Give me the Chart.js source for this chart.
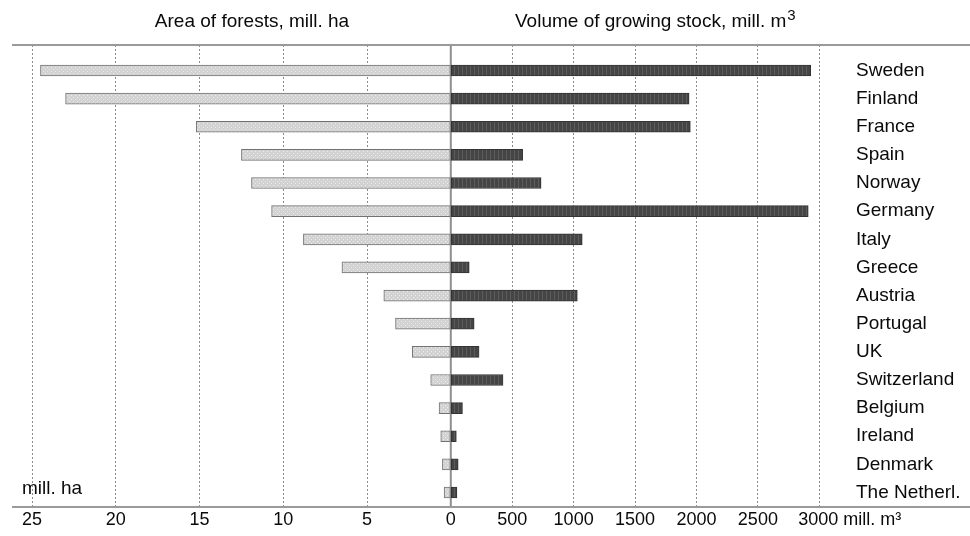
<!DOCTYPE html>
<html>
<head>
<meta charset="utf-8">
<script src="https://cdn.jsdelivr.net/npm/chart.js@4/dist/chart.umd.min.js"></script>
<style>
  html, body { margin: 0; padding: 0; background: #fff; }
  canvas { display: block; }
</style>
</head>
<body>
<canvas id="forest_graph" width="970" height="536"></canvas>
<script>
const countries = ['Sweden', 'Finland', 'France', 'Spain', 'Norway', 'Germany', 'Italy', 'Greece',
  'Austria', 'Portugal', 'UK', 'Switzerland', 'Belgium', 'Ireland', 'Denmark', 'The Netherl.'];
// area of forests, mill. ha
const forestArea = [24.5, 23.0, 15.2, 12.5, 11.9, 10.7, 8.8, 6.5, 4.0, 3.3, 2.3, 1.2, 0.7, 0.6, 0.5, 0.4];
// volume of growing stock, mill. m3
const growingStock = [2930, 1940, 1950, 585, 735, 2910, 1070, 150, 1030, 190, 230, 425, 95, 45, 60, 50];
const areaTicks = [0, 5, 10, 15, 20, 25];
const stockTicks = [500, 1000, 1500, 2000, 2500, 3000];

const FONT = "'Liberation Sans', Arial, sans-serif";
const TEXT = '#0a0a0a';

// small hatched fills for the two bar kinds
function makePattern(base, dot, line) {
    let c = document.createElement('canvas');
    c.width = 4; c.height = 4;
    let p = c.getContext('2d');
    p.fillStyle = base;
    p.fillRect(0, 0, 4, 4);
    if (dot) {
        p.fillStyle = dot;
        p.fillRect(1, 1, 1, 1);
        p.fillRect(3, 3, 1, 1);
    }
    if (line) {
        p.fillStyle = line;
        p.fillRect(2, 0, 1, 4);
    }
    return p.createPattern(c, 'repeat');
}

let ctx = document.getElementById('forest_graph').getContext('2d');
let lightFill = makePattern('#d2d2d2', '#ececec', null);
let darkFill = makePattern('#454545', null, '#5c5c5c');

let toPoints = (vals) => vals.map((v, i) => ({x: v, y: i}));

let gridColor = (c) => c.tick && c.tick.value === 0 ? 'rgba(0,0,0,0)' : '#8a8a8a';
let lastStock = stockTicks[stockTicks.length - 1];

const overlay = {
    id: 'overlay',
    beforeDatasetsDraw(chart) {
        const c = chart.ctx;
        const area = chart.chartArea;
        const x0 = chart.scales.xr.getPixelForValue(0);
        c.save();
        c.strokeStyle = '#8f8f8f';
        c.lineWidth = 2;
        c.beginPath();
        c.moveTo(x0, area.top);
        c.lineTo(x0, area.bottom);
        c.stroke();
        c.restore();
    },
    afterDraw(chart) {
        const c = chart.ctx;
        const area = chart.chartArea;
        c.save();
        // frame lines across the full width
        c.strokeStyle = '#9a9a9a';
        c.lineWidth = 2;
        c.beginPath();
        c.moveTo(area.left, area.top);
        c.lineTo(chart.width, area.top);
        c.moveTo(area.left, area.bottom);
        c.lineTo(chart.width, area.bottom);
        c.stroke();

        c.fillStyle = TEXT;
        c.textBaseline = 'middle';
        c.font = '19px ' + FONT;
        c.textAlign = 'center';
        c.fillText('Area of forests, mill. ha', 252, 22);

        c.textAlign = 'left';
        let head = 'Volume of growing stock, mill. m';
        c.fillText(head, 515, 22);
        let w = c.measureText(head).width;
        c.font = '15px ' + FONT;
        c.fillText('3', 515 + w + 1, 16);

        c.font = '19px ' + FONT;
        c.fillText('mill. ha', 22, 489);

        // last volume tick carries the unit
        c.font = '18px ' + FONT;
        let xl = chart.scales.xr.getPixelForValue(lastStock) - 21;
        c.fillText(lastStock + ' mill. m\u00B3', xl, area.bottom + 2 + 10.8);
        c.restore();
    }
};

let forest_graph = new Chart(ctx, {
    type: 'bar',
    data: {
        datasets: [{
                label: 'Area of forests',
                data: toPoints(forestArea),
                xAxisID: 'xl',
                yAxisID: 'y',
                backgroundColor: lightFill,
                borderColor: '#727272',
                borderWidth: 1,
                borderSkipped: false,
                barThickness: 11,
                grouped: false
            }, {
                label: 'Volume of growing stock',
                data: toPoints(growingStock),
                xAxisID: 'xr',
                yAxisID: 'y',
                backgroundColor: darkFill,
                borderColor: '#333333',
                borderWidth: 1,
                borderSkipped: false,
                barThickness: 11,
                grouped: false
            }
        ]
    },
    options: {
        indexAxis: 'y',
        responsive: false,
        animation: false,
        layout: {
            padding: {top: 45, left: 12, right: 0, bottom: 0}
        },
        plugins: {
            legend: {display: false},
            tooltip: {enabled: false}
        },
        scales: {
            xl: {
                type: 'linear',
                position: 'bottom',
                stack: 'x',
                stackWeight: 438.8,
                reverse: true,
                min: 0,
                max: 26.2,
                afterFit: (scale) => { scale.height = 29; },
                afterBuildTicks: (scale) => { scale.ticks = areaTicks.map(v => ({value: v})); },
                grid: {color: gridColor, drawTicks: false, lineWidth: 1},
                border: {display: false, dash: [2, 2]},
                ticks: {
                    color: TEXT,
                    font: {family: FONT, size: 18},
                    padding: 2,
                    maxRotation: 0,
                    autoSkip: false,
                    callback: (v) => String(v)
                }
            },
            xr: {
                type: 'linear',
                position: 'bottom',
                stack: 'x',
                stackWeight: 389.2,
                min: 0,
                max: 3168.6,
                afterFit: (scale) => { scale.height = 29; },
                afterBuildTicks: (scale) => { scale.ticks = [0, ...stockTicks].map(v => ({value: v})); },
                grid: {color: gridColor, drawTicks: false, lineWidth: 1},
                border: {display: false, dash: [2, 2]},
                ticks: {
                    color: TEXT,
                    font: {family: FONT, size: 18},
                    padding: 2,
                    maxRotation: 0,
                    autoSkip: false,
                    callback: (v) => (v === 0 || v === lastStock) ? '' : String(v)
                }
            },
            y: {
                type: 'linear',
                position: 'right',
                reverse: true,
                offset: false,
                min: -0.906,
                max: 15.515,
                afterFit: (scale) => { scale.width = 130; },
                afterBuildTicks: (scale) => { scale.ticks = countries.map((n, i) => ({value: i})); },
                grid: {display: false, drawTicks: false},
                border: {display: false},
                ticks: {
                    color: TEXT,
                    font: {family: FONT, size: 19},
                    padding: 16,
                    autoSkip: false,
                    callback: (v) => countries[v] || ''
                }
            }
        }
    },
    plugins: [overlay]
});
</script>
</body>
</html>
